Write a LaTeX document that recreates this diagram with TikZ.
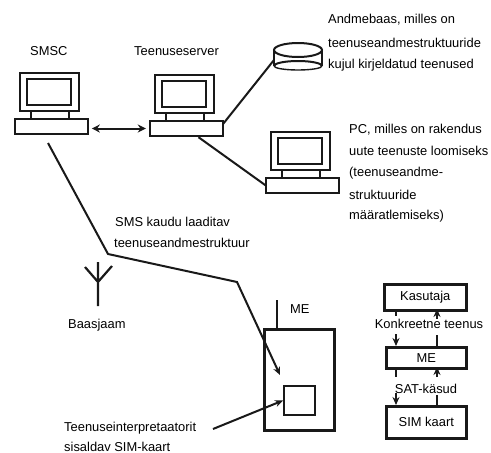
\documentclass[tikz,border=0pt]{standalone}
\usepackage{fontspec}
\setmainfont{Liberation Sans}
\usetikzlibrary{arrows.meta,positioning}
\tikzset{
  lbl/.style={anchor=base west,inner sep=0pt,font=\fontsize{12.9}{15}\selectfont,text=black},
  lblc/.style={anchor=base,inner sep=0pt,font=\fontsize{12.9}{15}\selectfont,text=black},
  bx/.style={draw=black!90,line width=2pt,inner sep=0pt},
  thick box/.style={draw=black!90,line width=2.6pt,inner sep=0pt},
  conn/.style={draw=black!90,line width=2pt},
  tipped/.style={conn,-{Stealth[length=8pt,width=7pt]}},
  tippedb/.style={conn,{Stealth[length=8pt,width=8pt]}-{Stealth[length=8pt,width=8pt]}},
  pics/computer/.style={code={
    \draw[bx] (5,0) rectangle (64,38);
    \draw[bx] (12,6) rectangle (56,32);
    \draw[bx] (16,38) -- (16,46) (54,38) -- (54,46);
    \draw[bx] (0,46) rectangle (73,61);
  }}
}
\begin{document}
\begin{tikzpicture}[x=1pt,y=-1pt]
\useasboundingbox (0,0) rectangle (491,453);
\fill[white] (0,0) rectangle (491,453);
% computers
\pic at (15,73) {computer};
\pic at (150,75) {computer};
\pic at (266,132) {computer};
% anchors of the computers' bases
\node (smscbase) [minimum width=73pt,minimum height=15pt,inner sep=0pt] at (51.5,126.5) {};
\node (srvbase) [minimum width=73pt,minimum height=15pt,inner sep=0pt] at (186.5,128.5) {};
\node (pcbase) [minimum width=73pt,minimum height=15pt,inner sep=0pt] at (302.5,185.5) {};
% database
\draw[bx] (274,50) -- (274,66) (322,50) -- (322,66);
\draw[bx] (298,50) ellipse [x radius=24,y radius=7];
\draw[bx] (274,66) arc[start angle=180,end angle=360,x radius=24,y radius=5];
\draw[bx,line width=1.4pt] (274,66) arc[start angle=180,end angle=0,x radius=24,y radius=4];
\coordinate (db) at (274,60);
% connectors
\draw[tippedb] (srvbase.west) ++(-4,0) -- ++(-54,0);
\draw[conn] (srvbase.north east) ++(0,3) -- (db);
\draw[conn] (srvbase.south) ++(12,1) -- (pcbase.west);
% SMS path
\coordinate (s0) at (48,143);
\coordinate (s1) at (108,254);
\coordinate (s2) at (237,282);
\coordinate (s3) at (280,375);
\draw[tipped] (s0) -- (s1) -- (s2) -- (s3);
% antenna
\draw[conn,line width=2.2pt] (98,262) -- (98,306) (85,267) -- (98,282) -- (112,266);
% ME device
\node (me) [thick box,minimum width=70pt,minimum height=101pt,anchor=north west] at (263,328) {};
\node (sim) [bx,minimum width=31pt,minimum height=29pt,anchor=north west] at (283,385) {};
\draw[conn] (me.north west) ++(14,0) -- ++(0,-28);
\coordinate (simlabelend) at (213,429);
\draw[tipped] (simlabelend) -- (sim.west);
% right block diagram
\node (k) [thick box,minimum width=82pt,minimum height=26pt,anchor=north west,font=\fontsize{12.9}{15}\selectfont] at (383,283) {Kasutaja};
\node (m) [thick box,minimum width=80pt,minimum height=21pt,anchor=north west,font=\fontsize{12.9}{15}\selectfont] at (385,346) {ME};
\node (c) [thick box,minimum width=80pt,minimum height=32pt,anchor=north west,font=\fontsize{12.9}{15}\selectfont] at (385,405) {SIM kaart};
\draw[conn] (396,309) -- (396,316);
\draw[tipped] (396,334) -- (396,346);
\draw[tipped] (437,319) -- (437,309);
\draw[conn] (437,335) -- (437,346);
\draw[conn] (396,367) -- (396,377);
\draw[tipped] (396,393) -- (396,405);
\draw[tipped] (437,377) -- (437,367);
\draw[conn] (437,395) -- (437,405);
% labels
\node[lbl] (t1) at (30,55) {SMSC};
\node[lbl] (t2) at (134,55) {Teenuseserver};
\node[lbl] (t3) at (328,23) {Andmebaas, milles on};
\node[lbl] (t4) at (328,47) {teenuseandmestruktuuride};
\node[lbl] (t5) at (328,68) {kujul kirjeldatud teenused};
\node[lbl] (t6) at (349,133) {PC, milles on rakendus};
\node[lbl] (t7) at (349,155) {uute teenuste loomiseks};
\node[lbl] (t8) at (349,176) {(teenuseandme-};
\node[lbl] (t9) at (349,199) {struktuuride};
\node[lbl] (t10) at (349,219) {määratlemiseks)};
\node[lbl] (t11) at (115,226) {SMS kaudu laaditav};
\node[lbl] (t12) at (114,247) {teenuseandmestruktuur};
\node[lbl] (t13) at (68,328) {Baasjaam};
\node[lbl] (t14) at (290,313) {ME};
\node[lbl] (t15) at (64,431) {Teenuseinterpretaatorit};
\node[lbl] (t16) at (64,451) {sisaldav SIM-kaart};
\node[lblc] (t17) at (429,328) {Konkreetne teenus};
\node[lblc] (t18) at (426,393) {SAT-käsud};
\end{tikzpicture}
\end{document}
